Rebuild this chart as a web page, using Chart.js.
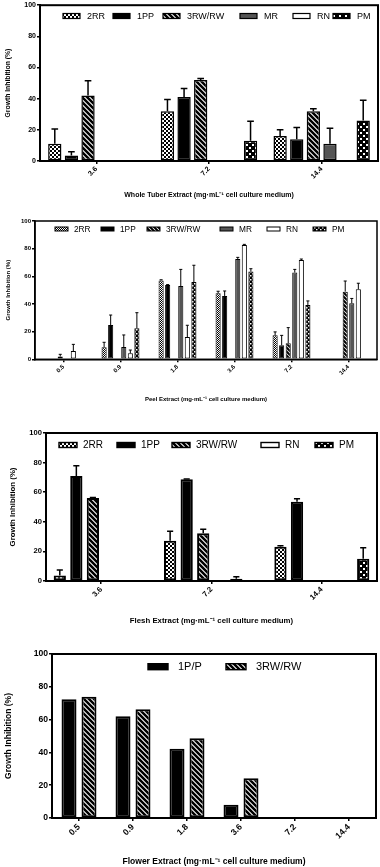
<!DOCTYPE html>
<html><head><meta charset="utf-8">
<script src="https://cdn.jsdelivr.net/npm/chart.js@4/dist/chart.umd.min.js"></script>
<style>
html,body{margin:0;padding:0;background:#fff;}
body{width:380px;height:867px;position:relative;overflow:hidden;}
canvas{position:absolute;left:0;}
</style></head><body>
<canvas id="c1" width="380" height="200" style="top:0px;width:380px;height:200px"></canvas>
<canvas id="c2" width="380" height="200" style="top:205px;width:380px;height:200px"></canvas>
<canvas id="c3" width="380" height="215" style="top:415px;width:380px;height:215px"></canvas>
<canvas id="c4" width="380" height="227" style="top:640px;width:380px;height:227px"></canvas>
<script>
// ---------- DATA ----------
// Whole tuber extract
const tuberCats = ['3.6', '7.2', '14.4'];
const tuber2RR = [11, 32, 16];      const tuber2RRErr = [9.5, 7.5, 4];
const tuber1PP = [3.5, 41, 14];     const tuber1PPErr = [2.5, 5.5, 7.5];
const tuber3RW = [42, 52, 32];      const tuber3RWErr = [9.5, 1, 1.5];
const tuberMR  = [0, 0, 11];        const tuberMRErr  = [0, 0, 10];
const tuberRN  = [0, 0, 0];         const tuberRNErr  = [0, 0, 0];
const tuberPM  = [0, 13, 26];       const tuberPMErr  = [0, 12.5, 13];

// Peel extract
const peelCats = ['0.5', '0.9', '1.8', '3.6', '7.2', '14.4'];
const peel2RR = [0, 8.7, 57, 47.7, 17.3, 0];     const peel2RRErr = [0, 3.6, 0.5, 1.5, 2.5, 0];
const peel1PP = [0, 24.8, 53.7, 45.8, 10.1, 0];  const peel1PPErr = [0, 7.2, 0.3, 3.6, 7.2, 0];
const peel3RW = [2, 0, 0, 0, 11.6, 48.9];        const peel3RWErr = [1.6, 0, 0, 0, 11.3, 7.7];
const peelMR  = [0, 8.9, 53, 72.5, 62.7, 40.5];  const peelMRErr  = [0, 8.7, 12, 1.2, 2.3, 3.5];
const peelRN  = [6, 4.3, 16.1, 82.7, 71.8, 50.6];const peelRNErr  = [4.8, 2.4, 8.5, 0.4, 0.7, 4.4];
const peelPM  = [0, 22.4, 55.9, 63.4, 39.3, 0];  const peelPMErr  = [0, 11.3, 12.1, 2.1, 2.9, 0];

// Flesh extract
const fleshCats = ['3.6', '7.2', '14.4'];
const flesh2RR = [3.8, 27.2, 23.2];  const flesh2RRErr = [3.6, 6.4, 0.6];
const flesh1PP = [71, 68.7, 53.6];   const flesh1PPErr = [6.9, 0.3, 2];
const flesh3RW = [56.1, 32.2, 0.3];  const flesh3RWErr = [0.4, 2.7, 0];
const fleshMR  = [0, 0, 0];          const fleshMRErr  = [0, 0, 0];
const fleshRN  = [0, 1.6, 0];        const fleshRNErr  = [0, 1.3, 0];
const fleshPM  = [0, 0, 15.1];       const fleshPMErr  = [0, 0, 7.4];

// Flower extract
const flowerCats = ['0.5', '0.9', '1.8', '3.6', '7.2', '14.4'];
const flower1PP = [72.4, 62, 42.3, 8.1, 0, 0];
const flower3RW = [74, 66.3, 48.6, 24.2, 0, 0];

const yTicks = [0, 20, 40, 60, 80, 100];
const yTitle = 'Growth Inhibition (%)';

// ---------- PATTERNS ----------
const FAM = '"Liberation Sans", Arial, sans-serif';
Chart.defaults.font.family = FAM;
Chart.defaults.color = '#000';
function pat(n, draw) {
  const c = document.createElement('canvas'); c.width = c.height = n;
  const x = c.getContext('2d'); draw(x, n); return x.createPattern(c, 'repeat');
}
const checker = s => pat(s * 2, (x, n) => { x.fillStyle = '#fff'; x.fillRect(0, 0, n, n); x.fillStyle = '#000'; x.fillRect(0, 0, s, s); x.fillRect(s, s, s, s); });
const stripes = n0 => pat(n0, (x, n) => {
  x.fillStyle = '#fff'; x.fillRect(0, 0, n, n); x.strokeStyle = '#000'; x.lineWidth = n * 0.5;
  x.beginPath(); x.moveTo(-n, -n); x.lineTo(2 * n, 2 * n); x.moveTo(-n, 0); x.lineTo(n, 2 * n); x.moveTo(0, -n); x.lineTo(2 * n, n); x.stroke();
});
const dots = (n, d) => pat(n, (x) => { x.fillStyle = '#000'; x.fillRect(0, 0, n, n); x.fillStyle = '#fff'; const h = n / 2; x.fillRect(0, 0, d, d); x.fillRect(h, h, d, d); });

function ds(label, data, errors, bg, bw) {
  return { label, data, errors, backgroundColor: bg, borderColor: '#000', borderWidth: bw, borderSkipped: false };
}

// ---------- PLUGINS ----------
const errBars = {
  id: 'errBars',
  afterDatasetsDraw(chart, args, o) {
    const ctx = chart.ctx, y = chart.scales.y;
    ctx.save(); ctx.strokeStyle = '#000'; ctx.lineWidth = o.lineWidth || 1;
    chart.data.datasets.forEach((d, i) => {
      if (!d.errors) return;
      chart.getDatasetMeta(i).data.forEach((el, j) => {
        const e = d.errors[j]; if (!e) return;
        const top = y.getPixelForValue(d.data[j] + e);
        const cap = el.width * (o.cap || 0.5) / 2;
        ctx.beginPath();
        ctx.moveTo(el.x, el.y); ctx.lineTo(el.x, top);
        ctx.moveTo(el.x - cap, top); ctx.lineTo(el.x + cap, top);
        ctx.stroke();
      });
    });
    ctx.restore();
  }
};
const frame = {
  id: 'frame',
  afterDraw(chart, args, o) {
    const a = chart.chartArea, ctx = chart.ctx;
    ctx.save(); ctx.lineWidth = o.w || 2; ctx.strokeStyle = '#000';
    ctx.strokeRect(a.left, a.top, a.right - a.left, a.bottom - a.top); ctx.restore();
  }
};
const boxLegend = {
  id: 'boxLegend',
  afterDraw(chart, args, o) {
    if (!o.items) return;
    const ctx = chart.ctx; ctx.save();
    ctx.font = o.fontSize + 'px ' + FAM; ctx.textBaseline = 'middle';
    o.items.forEach(it => {
      const d = chart.data.datasets[it.index];
      ctx.fillStyle = d.backgroundColor;
      ctx.fillRect(it.x, o.y - o.boxH / 2, o.boxW, o.boxH);
      ctx.lineWidth = o.border; ctx.strokeStyle = '#000';
      ctx.strokeRect(it.x, o.y - o.boxH / 2, o.boxW, o.boxH);
      ctx.fillStyle = '#000';
      ctx.fillText(d.label, it.x + o.boxW + o.gap, o.y + 0.5);
    });
    ctx.restore();
  }
};

function build(id, p) {
  return new Chart(document.getElementById(id), {
    type: 'bar',
    data: { labels: p.labels, datasets: p.datasets },
    plugins: [errBars, frame, boxLegend],
    options: {
      responsive: false, animation: false,
      layout: { padding: { top: p.padTop, right: p.padRight, left: 0, bottom: 0 } },
      datasets: { bar: { categoryPercentage: p.cat, barPercentage: p.bar } },
      plugins: {
        legend: { display: false }, tooltip: { enabled: false },
        errBars: { lineWidth: p.errW, cap: p.cap },
        frame: { w: p.frameW },
        boxLegend: p.legend
      },
      scales: {
        x: {
          grid: { display: true, drawOnChartArea: false, drawTicks: true, tickLength: 3, offset: false, color: '#000', lineWidth: 1.5 },
          border: { display: true, color: '#000', width: p.frameW },
          ticks: { color: '#000', font: { size: p.tickSize, weight: 'bold' }, minRotation: 45, maxRotation: 45, autoSkip: false, padding: 1 },
          title: { display: true, text: p.xTitle, color: '#000', font: { size: p.xTitleSize, weight: 'bold', lineHeight: 1 }, padding: { top: 0, bottom: p.xTitlePad } },
          afterFit(s) { s.height = p.xHeight; }
        },
        y: {
          min: 0, max: 100,
          afterBuildTicks(s) { s.ticks = yTicks.map(v => ({ value: v })); },
          grid: { display: true, drawOnChartArea: false, drawTicks: true, tickLength: 3, color: '#000', lineWidth: 1.5 },
          border: { display: true, color: '#000', width: p.frameW },
          ticks: { color: '#000', font: { size: p.tickSize, weight: 'bold' }, padding: 1 },
          title: { display: true, text: yTitle, color: '#000', font: { size: p.yTitleSize, weight: 'bold', lineHeight: 1 }, padding: { top: p.yTitlePad, bottom: 0 } },
          afterFit(s) { s.width = p.yWidth; }
        }
      }
    }
  });
}

const sub = '(mg\u00B7mL\u207B\u00B9 cell culture medium)';

// Panel 1
build('c1', {
  labels: tuberCats,
  datasets: [
    ds('2RR', tuber2RR, tuber2RRErr, checker(2), 1.5),
    ds('1PP', tuber1PP, tuber1PPErr, '#000', 1.5),
    ds('3RW/RW', tuber3RW, tuber3RWErr, stripes(5), 1.5),
    ds('MR', tuberMR, tuberMRErr, '#555', 1.5),
    ds('RN', tuberRN, tuberRNErr, '#fff', 1.5),
    ds('PM', tuberPM, tuberPMErr, dots(6, 2), 1.5)
  ],
  padTop: 4, padRight: 2, yWidth: 40, xHeight: 39,
  cat: 0.885, bar: 0.8, errW: 1.5, cap: 0.5, frameW: 2,
  tickSize: 7, xTitle: 'Whole Tuber Extract ' + sub, xTitleSize: 7, xTitlePad: 1.5,
  yTitleSize: 6.8, yTitlePad: 4.6,
  legend: { y: 16, boxW: 17, boxH: 5, fontSize: 9, gap: 7, border: 1.2,
    items: [{ index: 0, x: 63 }, { index: 1, x: 113 }, { index: 2, x: 163 }, { index: 3, x: 240 }, { index: 4, x: 293 }, { index: 5, x: 333 }] }
});

// Panel 2
build('c2', {
  labels: peelCats,
  datasets: [
    ds('2RR', peel2RR, peel2RRErr, checker(1), 1),
    ds('1PP', peel1PP, peel1PPErr, '#000', 1),
    ds('3RW/RW', peel3RW, peel3RWErr, stripes(4), 1),
    ds('MR', peelMR, peelMRErr, '#555', 1),
    ds('RN', peelRN, peelRNErr, '#fff', 1),
    ds('PM', peelPM, peelPMErr, dots(4, 1.5), 1)
  ],
  padTop: 16, padRight: 3, yWidth: 35, xHeight: 45.7,
  cat: 0.69, bar: 0.78, errW: 1, cap: 0.6, frameW: 1.5,
  tickSize: 6, xTitle: 'Peel Extract ' + sub, xTitleSize: 6, xTitlePad: 3,
  yTitleSize: 6, yTitlePad: 5,
  legend: { y: 24, boxW: 13, boxH: 4, fontSize: 8.3, gap: 6, border: 1,
    items: [{ index: 0, x: 55 }, { index: 1, x: 101 }, { index: 2, x: 147 }, { index: 3, x: 220 }, { index: 4, x: 267 }, { index: 5, x: 313 }] }
});

// Panel 3
build('c3', {
  labels: fleshCats,
  datasets: [
    ds('2RR', flesh2RR, flesh2RRErr, checker(2), 2),
    ds('1PP', flesh1PP, flesh1PPErr, '#000', 2),
    ds('3RW/RW', flesh3RW, flesh3RWErr, stripes(5), 2),
    ds('MR', fleshMR, fleshMRErr, '#555', 2),
    ds('RN', fleshRN, fleshRNErr, '#fff', 2),
    ds('PM', fleshPM, fleshPMErr, dots(6, 2), 2)
  ],
  padTop: 18, padRight: 3, yWidth: 46, xHeight: 49,
  cat: 0.9, bar: 0.74, errW: 1.5, cap: 0.5, frameW: 2,
  tickSize: 7.6, xTitle: 'Flesh Extract ' + sub, xTitleSize: 7.8, xTitlePad: 5,
  yTitleSize: 7.8, yTitlePad: 9,
  legend: { y: 30, boxW: 18, boxH: 5, fontSize: 10, gap: 6, border: 1.4,
    items: [{ index: 0, x: 59 }, { index: 1, x: 117 }, { index: 2, x: 172 }, { index: 4, x: 261 }, { index: 5, x: 315 }] }
});

// Panel 4
build('c4', {
  labels: flowerCats,
  datasets: [
    ds('1P/P', flower1PP, null, '#000', 2),
    ds('3RW/RW', flower3RW, null, stripes(5), 2)
  ],
  padTop: 14, padRight: 4, yWidth: 52, xHeight: 49,
  cat: 0.74, bar: 0.75, errW: 1.5, cap: 0.5, frameW: 2,
  tickSize: 8.6, xTitle: 'Flower Extract ' + sub, xTitleSize: 8.5, xTitlePad: 1,
  yTitleSize: 8.5, yTitlePad: 4.75,
  legend: { y: 26.7, boxW: 20, boxH: 6, fontSize: 11, gap: 10, border: 1.4,
    items: [{ index: 0, x: 148 }, { index: 1, x: 226 }] }
});
</script>
</body></html>
